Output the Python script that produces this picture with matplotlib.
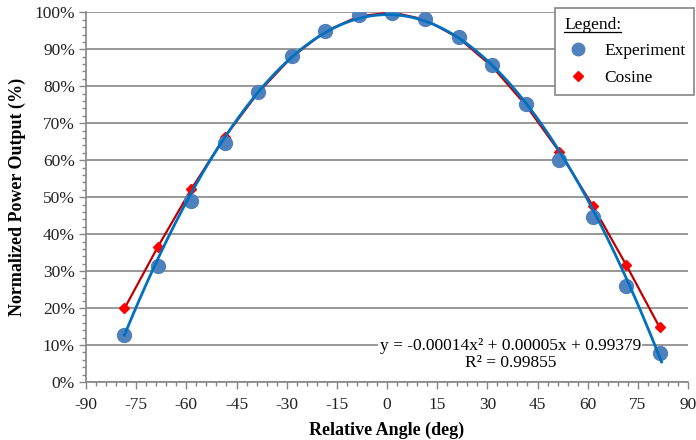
import numpy as np
from matplotlib import pyplot as plt
from matplotlib.lines import Line2D
from matplotlib.ticker import MultipleLocator, PercentFormatter

angle = [-78.5, -68.5, -58.5, -48.5, -38.5, -28.5, -18.5, -8.5, 1.5,
         11.5, 21.5, 31.5, 41.5, 51.5, 61.5, 71.5, 81.5]
experiment = [12.7, 31.4, 49.0, 64.6, 78.4, 88.3, 94.9, 99.2, 99.9,
              98.2, 93.2, 85.7, 75.1, 60.0, 44.5, 26.0, 7.8]
cosine = [19.9, 36.6, 52.2, 66.3, 78.3, 87.9, 94.8, 98.9, 100.0,
          98.0, 93.0, 85.3, 74.9, 62.3, 47.7, 31.7, 14.8]
fit_coef = [-0.00014, 0.00005, 0.99379]
r_squared = 0.99855

plt.rcParams['font.family'] = ['Liberation Serif', 'DejaVu Serif']
plt.rcParams['axes.unicode_minus'] = False
grey = '#868686'
fs = 12.5

fig = plt.figure(figsize=(6.96, 4.40), dpi=100)
ax = fig.add_axes([0.1236, 0.1318, 0.8649, 0.8402])

# cosine reference curve
ax.plot(angle, cosine, color='#c00000', lw=1.6, zorder=3)
ax.plot(angle, cosine, ls='none', marker='D', ms=5.5, color='#ff0000',
        mec='#ff0000', zorder=4)

# measured points + polynomial trendline
ax.plot(angle, experiment, ls='none', marker='o', ms=10, color='#4f81bd',
        mec='#4f81bd', zorder=5)
xs = np.linspace(min(angle), max(angle) + 0.6, 300)
ax.plot(xs, np.polyval(fit_coef, xs) * 100, color='#0070c0', lw=2, zorder=6)

ax.set_xlim(-90, 90)
ax.set_ylim(0, 100)
ax.xaxis.set_major_locator(MultipleLocator(15))
ax.xaxis.set_minor_locator(MultipleLocator(3))
ax.yaxis.set_major_locator(MultipleLocator(10))
ax.yaxis.set_minor_locator(MultipleLocator(2))
ax.yaxis.set_major_formatter(PercentFormatter(decimals=0))

ax.grid(axis='y', which='major', color=grey, lw=1.2)
ax.set_axisbelow(True)
for s in ['top', 'right']:
    ax.spines[s].set_visible(False)
for s in ['left', 'bottom']:
    ax.spines[s].set_color(grey)
    ax.spines[s].set_linewidth(1.2)
ax.tick_params(which='major', length=5, color=grey, width=1, labelsize=fs,
               labelcolor='#222222')
ax.tick_params(which='minor', length=3, color=grey, width=1)
ax.tick_params(axis='x', pad=6)
ax.tick_params(axis='y', pad=3)

ax.set_xlabel('Relative Angle (deg)', fontsize=13, fontweight='bold', labelpad=6)
ax.set_ylabel('Normalized Power Output (%)', fontsize=13, fontweight='bold',
              labelpad=6)

eq = 'y = {:.5f}x\u00b2 + {:.5f}x + {:.5f}\nR\u00b2 = {:.5f}'.format(
    fit_coef[0], fit_coef[1], fit_coef[2], r_squared)
ax.text(0.705, 0.075, eq, transform=ax.transAxes, ha='center', va='center',
        fontsize=fs, linespacing=1.05,
        bbox=dict(facecolor='white', edgecolor='none', pad=1), zorder=7)

handles = [
    Line2D([], [], ls='none', marker='o', ms=9, color='#4f81bd'),
    Line2D([], [], ls='none', marker='D', ms=5.5, color='#ff0000'),
]
leg = ax.legend(handles, ['Experiment', 'Cosine'], title='Legend:',
                loc='upper right', bbox_to_anchor=(694 / 696, 1 - 8 / 440),
                bbox_transform=fig.transFigure, borderaxespad=0,
                fontsize=fs, title_fontsize=fs, fancybox=False, framealpha=1,
                edgecolor=grey, borderpad=0.5, handletextpad=0.7,
                handlelength=1.6, labelspacing=0.6, alignment='left')
leg.get_frame().set_linewidth(1.2)
leg.set_zorder(10)

# underline the legend title
fig.canvas.draw()
bb = leg.get_title().get_window_extent()
inv = fig.transFigure.inverted()
(x0, y0), (x1, _) = inv.transform([(bb.x0, bb.y0 + 1), (bb.x1, bb.y0 + 1)])
fig.add_artist(Line2D([x0, x1], [y0, y0], color='black', lw=0.9,
                      transform=fig.transFigure, zorder=11))

plt.savefig('out.png', dpi=100)
